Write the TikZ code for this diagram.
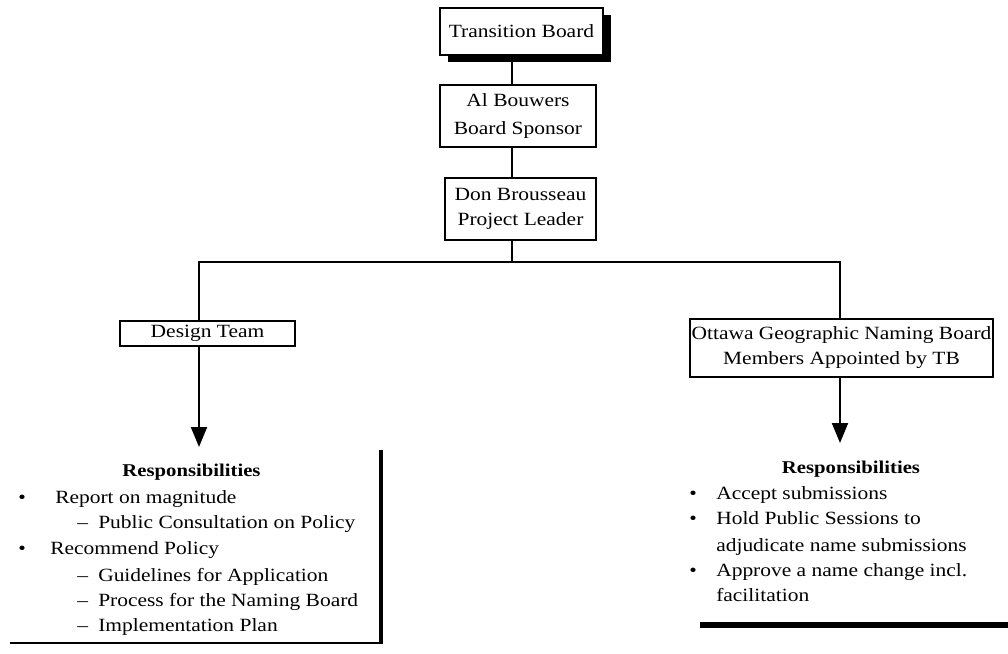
\documentclass[tikz,border=0pt]{standalone}
\usepackage{fontspec}
\setmainfont{Liberation Serif}[FakeStretch=1.15]
\usetikzlibrary{arrows.meta}
\begin{document}
\begin{tikzpicture}[x=0.75pt,y=-0.75pt,
  txt/.style={font=\fontsize{14pt}{18.75pt}\selectfont, inner sep=0pt},
  boxnode/.style={draw, line width=1.5pt, fill=white, align=center, inner sep=0pt,
     font=\fontsize{14pt}{18.75pt}\selectfont},
  conn/.style={line width=1.5pt},
  arr/.style={line width=1.5pt, -{Triangle[width=12pt,length=15pt]}},
  head/.style={font=\bfseries\fontsize{13.5pt}{18pt}\selectfont, inner sep=0pt, anchor=base},
  item/.style={txt, anchor=base west}]
\useasboundingbox (0,0) rectangle (1008,654);
% top column
\coordinate (cx) at (512,0);
\node[fill=black, minimum width=122.25pt, minimum height=35.25pt, inner sep=0pt] (tbsh) at (529.5,38.5) {};
\node[boxnode, minimum width=122.25pt, minimum height=35.25pt] (tb) at (521.5,31.5) {Transition Board};
\node[boxnode, minimum width=117pt, minimum height=46.5pt, font=\fontsize{14pt}{21pt}\selectfont] (ab) at (518,116) {Al Bouwers\\Board Sponsor};
\node[boxnode, minimum width=113.25pt, minimum height=46.5pt] (db) at (520.5,209) {Don Brousseau\\Project Leader};
\node[boxnode, minimum width=131.25pt, minimum height=18.75pt] (dt) at (207.5,333.5) {Design Team};
\node[boxnode, minimum width=227.25pt, minimum height=43.5pt] (ot) at (841.5,348) {Ottawa Geographic Naming Board\\Members Appointed by TB};
\coordinate (lx) at (199,262);
\coordinate (rx) at (840,262);
\coordinate (ltip) at (199,447);
\coordinate (rtip) at (840,443);
\draw[conn] (tbsh.south -| cx) -- (ab.north -| cx);
\draw[conn] (ab.south -| cx) -- (db.north -| cx);
\draw[conn] (db.south -| cx) -- (cx |- lx);
\draw[conn] (dt.north -| lx) -- (lx) -- (rx) -- (ot.north -| rx);
\draw[arr] (dt.south -| lx) -- (ltip);
\draw[arr] (ot.south -| rx) -- (rtip);
% left responsibilities
\coordinate (lbr) at (381,643);
\draw[line width=3pt] (381,450) -- (lbr);
\draw[line width=1.2pt] (10,643) -- (383,643);
\node[head] (lh) at (191.5,476) {Responsibilities};
\node[item] (l1a) at (18,503) {•};
\node[item] (l1) at (55,503) {Report on magnitude};
\node[item] (l2a) at (77,528) {–};
\node[item] (l2) at (98,528) {Public Consultation on Policy};
\node[item] (l3a) at (18,554) {•};
\node[item] (l3) at (50,554) {Recommend Policy};
\node[item] (l4a) at (77,581) {–};
\node[item] (l4) at (98,581) {Guidelines for Application};
\node[item] (l5a) at (77,606) {–};
\node[item] (l5) at (98,606) {Process for the Naming Board};
\node[item] (l6a) at (77,631) {–};
\node[item] (l6) at (98,631) {Implementation Plan};
% right responsibilities
\draw[line width=4pt] (700,625) -- (1008,625);
\node[head] (rh) at (851,473) {Responsibilities};
\node[item] (r1a) at (689,499) {•};
\node[item] (r1) at (716,499) {Accept submissions};
\node[item] (r2a) at (689,524) {•};
\node[item] (r2) at (716,524) {Hold Public Sessions to};
\node[item] (r3) at (716,551) {adjudicate name submissions};
\node[item] (r4a) at (689,576) {•};
\node[item] (r4) at (716,576) {Approve a name change incl.};
\node[item] (r5) at (716,601) {facilitation};
\end{tikzpicture}
\end{document}
